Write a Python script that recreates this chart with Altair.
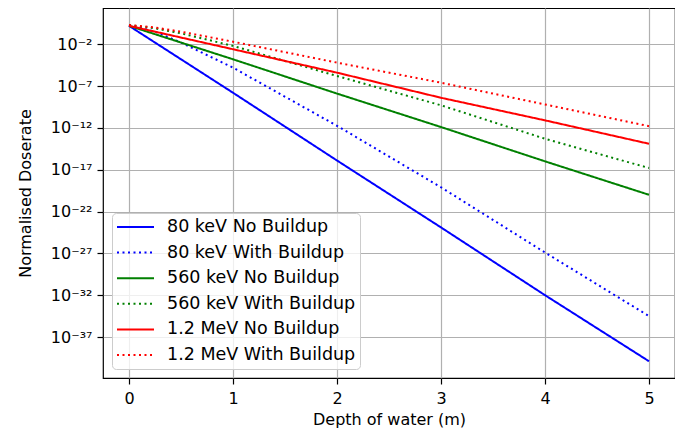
import altair as alt
import pandas as pd

# Series labels (legend order), colours and dash patterns
series = [
    "80 keV No Buildup",
    "80 keV With Buildup",
    "560 keV No Buildup",
    "560 keV With Buildup",
    "1.2 MeV No Buildup",
    "1.2 MeV With Buildup",
]
colors = ["#0000ff", "#0000ff", "#008000", "#008000", "#ff0000", "#ff0000"]
dashes = [[1, 0], [2, 3.5], [1, 0], [2, 3.5], [1, 0], [2, 3.5]]

# Depth of water (m) sample points, and log10 of normalised doserate
depth_solid = [0, 1, 2, 3, 4, 5]
log_80_none = [0.2, -7.8, -15.9, -23.9, -32.0, -39.9]
log_560_none = [0.2, -3.8, -7.9, -11.9, -16.0, -20.0]
log_1200_none = [0.2, -2.6, -5.4, -8.4, -11.1, -13.9]

depth_dotted = [0, 0.25, 0.5, 1, 2, 3, 4, 5]
log_80_with = [0.3, -0.5, -1.8, -4.8, -11.75, -19.1, -26.9, -34.5]
log_560_with = [0.3, -0.1, -0.7, -2.2, -5.8, -9.3, -13.3, -16.8]
log_1200_with = [0.3, 0.0, -0.5, -1.7, -4.2, -6.6, -9.2, -11.8]

y_tick_exps = [-2, -7, -12, -17, -22, -27, -32, -37]
x_ticks = [0, 1, 2, 3, 4, 5]

rows = []
for name, xs, ys in [
    (series[0], depth_solid, log_80_none),
    (series[1], depth_dotted, log_80_with),
    (series[2], depth_solid, log_560_none),
    (series[3], depth_dotted, log_560_with),
    (series[4], depth_solid, log_1200_none),
    (series[5], depth_dotted, log_1200_with),
]:
    for i, (x, ly) in enumerate(zip(xs, ys)):
        rows.append({"series": name, "depth": x, "dose": 10.0 ** ly, "idx": i})
df = pd.DataFrame(rows)

sup = str.maketrans("-0123456789", "⁻⁰¹²³⁴⁵⁶⁷⁸⁹")
expr = "''"
for e in y_tick_exps:
    expr = f"round(log(datum.value)/LN10) == {e} ? '10{str(e).translate(sup)}' : ({expr})"

legend = alt.Legend(
    title=None,
    orient="none",
    legendX=9,
    legendY=205,
    symbolType="stroke",
    symbolSize=1369,
    symbolStrokeWidth=2,
    clipHeight=20,
    rowPadding=5.6,
    padding=4,
    labelOffset=12,
    labelFontSize=17.5,
    labelFont="DejaVu Sans",
    labelColor="#000000",
    fillColor="rgba(255,255,255,0.8)",
    strokeColor="#cccccc",
    cornerRadius=4,
    labelLimit=400,
)

chart = (
    alt.Chart(df)
    .mark_line(strokeWidth=2, clip=True)
    .encode(
        x=alt.X(
            "depth:Q",
            scale=alt.Scale(domain=[-0.25, 5.25], nice=False, zero=False),
            axis=alt.Axis(values=x_ticks, format="d", title="Depth of water (m)"),
        ),
        y=alt.Y(
            "dose:Q",
            scale=alt.Scale(type="log", domain=[10 ** -41.9, 10 ** 2.33], nice=False),
            axis=alt.Axis(
                values=[10.0 ** e for e in y_tick_exps],
                labelExpr=expr,
                title="Normalised Doserate",
            ),
        ),
        color=alt.Color("series:N", scale=alt.Scale(domain=series, range=colors), legend=legend),
        strokeDash=alt.StrokeDash("series:N", scale=alt.Scale(domain=series, range=dashes), legend=legend),
        order="idx:Q",
    )
    .properties(
        width=572,
        height=370,
        autosize=alt.AutoSizeParams(type="none"),
        padding={"left": 95, "top": 0, "right": 0, "bottom": 54},
    )
    .configure_view(stroke="#000000", strokeWidth=1.2)
    .configure_axis(
        domain=False,
        grid=True,
        gridColor="#b0b0b0",
        gridWidth=1.2,
        tickColor="#000000",
        tickSize=6,
        tickWidth=1.2,
        labelFont="DejaVu Sans",
        labelFontSize=16,
        labelColor="#000000",
        labelPadding=5,
        titleFont="DejaVu Sans",
        titleFontSize=16,
        titleFontWeight="normal",
        titleColor="#000000",
    )
    .configure_axisX(titlePadding=5, labelPadding=6)
    .configure_axisY(titlePadding=17)
)

chart.save("out.html", embed_options={"renderer": "svg", "actions": False})
